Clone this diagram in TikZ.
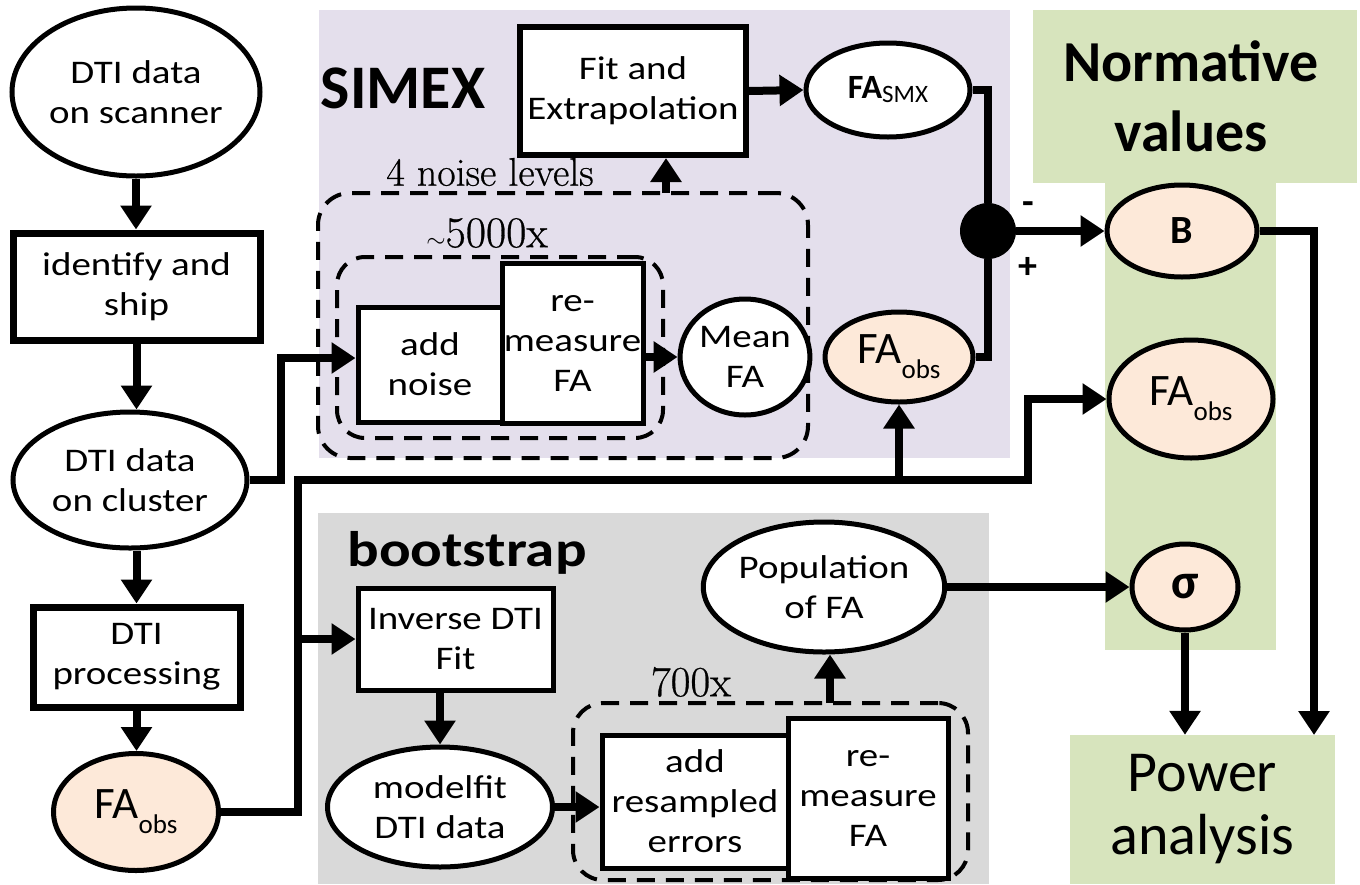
\documentclass[tikz,border=0pt]{standalone}
\usepackage{fontspec}
\newfontfamily\calw[FakeStretch=1.18]{Carlito}
\newfontfamily\calf{Carlito}
\newfontfamily\lmr[FakeBold=0.6]{Latin Modern Roman}
\usetikzlibrary{arrows.meta,shapes.geometric}

\definecolor{simexbg}{RGB}{228,223,236}
\definecolor{normbg}{RGB}{215,228,189}
\definecolor{bootbg}{RGB}{217,217,217}
\definecolor{peach}{RGB}{253,233,217}

\newcommand\bodyfont{\calw\fontsize{33}{40}\selectfont}
\newcommand\faobs{{\calf\fontsize{45}{48}\selectfont FA\raisebox{-0.33em}{\fontsize{27}{27}\selectfont obs}}}
\newcommand\fasmx{{\calf\bfseries\fontsize{34}{36}\selectfont FA\raisebox{-0.12em}{\mdseries\fontsize{25}{25}\selectfont SMX}}}

\begin{document}
\begin{tikzpicture}[x=1pt,y=-1pt,
  conn/.style={line width=8pt},
  arr/.style={line width=8pt,-{Triangle[width=30pt,length=24pt]}},
  boxthick/.style={draw, fill=white, line width=7pt, inner sep=0pt, align=center, font=\bodyfont},
  box/.style={draw, fill=white, line width=5pt, inner sep=0pt, align=center, font=\bodyfont},
  oval/.style={ellipse, draw, fill=white, line width=5pt, inner sep=0pt, align=center, font=\bodyfont},
  obs/.style={oval, fill=peach},
  loopline/.style={draw, dash pattern=on 18pt off 11pt, line width=4pt, rounded corners=32pt},
  cmnote/.style={font=\lmr\fontsize{40}{44}\selectfont, inner sep=0pt},
  title/.style={inner sep=0pt, align=center},
]
\useasboundingbox (0,0) rectangle (1360,884);

% coloured panels
\fill[simexbg] (319,10) rectangle (1010,458);
\fill[bootbg] (318,513) rectangle (989,884);
\fill[normbg] (1033,10) rectangle (1357,183);
\fill[normbg] (1105,183) rectangle (1276,650);
\node[fill=normbg, minimum width=265pt, minimum height=149pt, inner sep=0pt,
      align=center, font=\calf\fontsize{58}{63}\selectfont] (power) at (1202.5,809.5) {Power\\analysis};

% panel titles
\node[title, font=\calf\bfseries\fontsize{62}{70}\selectfont] (simex) at (403,88) {SIMEX};
\node[title, font=\calw\bfseries\fontsize{50}{60}\selectfont] (boot) at (467,553) {bootstrap};
\node[title, font=\calf\bfseries\fontsize{58}{70}\selectfont] (norm) at (1191,96.5) {Normative\\values};

% left column
\node[oval, minimum width=248pt, minimum height=168pt] (scanner) at (136,92) {DTI data\\on scanner};
\node[boxthick, minimum width=247pt, minimum height=107pt] (ship) at (136.5,286.5) {identify and\\ship};
\node[oval, minimum width=234pt, minimum height=136pt] (cluster) at (130,480) {DTI data\\on cluster};
\node[boxthick, minimum width=207pt, minimum height=100pt] (proc) at (136.5,657) {DTI\\processing};
\node[obs, minimum width=165pt, minimum height=117pt] (faobsA) at (136,812) {\faobs};

% SIMEX loops
\node[loopline, minimum width=490pt, minimum height=265pt] (outerloop) at (563,325.5) {};
\node[loopline, minimum width=326pt, minimum height=181pt, rounded corners=28pt] (innerloop) at (500,347.5) {};
\node[cmnote] (lvl) at (490,172) {4 noise levels};
\node[cmnote, font=\lmr\fontsize{44}{46}\selectfont] (rep) at (487,233) {$\sim$5000x};

% SIMEX steps
\node[boxthick, line width=6pt, minimum width=226pt, minimum height=128pt] (fit) at (633,91) {Fit and\\Extrapolation};
\node[oval, minimum width=164pt, minimum height=94pt] (fasmx) at (888,90) {\fasmx};
\node[box, minimum width=144pt, minimum height=115pt] (addnoise) at (430,364.5) {add\\noise};
\node[box, minimum width=141pt, minimum height=160pt] (remeasA) at (572.5,343) {re-\\measure\\FA};
\node[oval, minimum width=124pt, minimum height=116pt] (mean) at (745,357) {Mean\\FA};
\node[obs, minimum width=148pt, minimum height=90pt] (faobsB) at (899,357) {\faobs};
\node[circle, fill=black, minimum size=56pt, inner sep=0pt] (jn) at (988,231) {};
\node[inner sep=0pt, font=\calf\bfseries\fontsize{38}{38}\selectfont] (minus) at (1028,208) {-};
\node[inner sep=0pt, font=\calf\bfseries\fontsize{38}{38}\selectfont] (plus) at (1028,268) {+};

% normative values
\node[obs, minimum width=150pt, minimum height=92pt, font=\calf\bfseries\fontsize{40}{40}\selectfont] (B) at (1182,231) {B};
\node[obs, minimum width=164pt, minimum height=118pt] (faobsC) at (1191,399) {\faobs};
\node[obs, minimum width=106pt, minimum height=86pt, font=\calf\bfseries\fontsize{50}{50}\selectfont] (sigma) at (1185,587) {σ};

% bootstrap
\node[loopline, minimum width=395pt, minimum height=177pt, rounded corners=30pt] (bootloop) at (770.5,791.5) {};
\node[cmnote, font=\lmr\fontsize{43}{46}\selectfont] (bootrep) at (691,682) {700x};
\node[box, minimum width=195pt, minimum height=102pt] (inv) at (455.5,639) {Inverse DTI\\Fit};
\node[oval, minimum width=225pt, minimum height=120pt] (modelfit) at (440,807) {modelfit\\DTI data};
\node[box, minimum width=186pt, minimum height=133pt] (addres) at (695,801.5) {add\\resampled\\errors};
\node[box, minimum width=160pt, minimum height=160pt] (remeasB) at (868,798) {re-\\measure\\FA};
\node[oval, minimum width=238pt, minimum height=130pt] (pop) at (824,587) {Population\\of FA};

% connectors: left column
\draw[arr] (scanner.south) -- (scanner.south |- ship.north);
\draw[arr] (ship.south) -- (ship.south |- cluster.north);
\draw[arr] (proc.north |- cluster.south) -- (proc.north);
\draw[arr] (proc.south) -- (proc.south |- faobsA.north);
\draw[arr] (cluster.east) -- ++(31,0) |- ([yshift=6.5pt]addnoise.west);

% observed FA distribution line
\coordinate (bus) at (298,480);
\coordinate (busend) at (1028,480);
\draw[arr] (faobsA.east) -| (bus) -- (busend) |- (faobsC.west);
\draw[arr] (faobsB.south |- bus) -- (faobsB.south);
\draw[arr] (bus |- inv.west) -- (inv.west);

% SIMEX connectors
\draw[arr] (fit.east) -- (fasmx.west);
\coordinate (lvltop) at (666,193);
\draw[arr] (lvltop) -- (lvltop |- fit.south);
\draw[arr] (remeasA.east |- mean.west) -- (mean.west);
\draw[conn] (fasmx.east) -| (jn.north);
\draw[conn] (faobsB.east) -| (jn.south);
\draw[arr] (jn.east) -- (B.west);

% normative values to power analysis
\coordinate (pwB) at (1314,735);
\draw[arr] (B.east) -| (pwB);
\draw[arr] (sigma.south) -- (sigma.south |- power.north);

% bootstrap connectors
\draw[arr] (inv.south -| modelfit.north) -- (modelfit.north);
\draw[arr] (modelfit.east) -- (modelfit.east -| addres.west);
\coordinate (boottop) at (830,703);
\draw[arr] (boottop) -- (boottop |- pop.south);
\draw[arr] (pop.east) -- (sigma.west);
\end{tikzpicture}
\end{document}
